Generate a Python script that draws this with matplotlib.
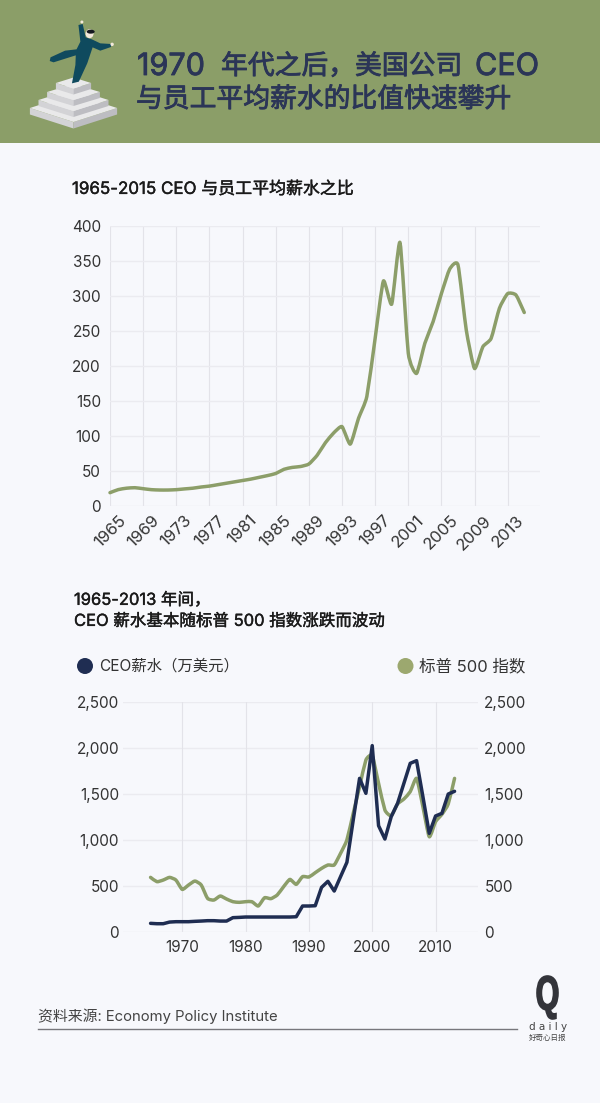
import matplotlib
matplotlib.use('Agg')
import matplotlib.pyplot as plt
import matplotlib.patheffects as pe
import numpy as np
from matplotlib.font_manager import FontProperties
from matplotlib.patches import Circle, Ellipse, PathPatch, Polygon
from matplotlib.path import Path
from matplotlib.textpath import TextPath
from matplotlib.ticker import StrMethodFormatter
from matplotlib.transforms import Affine2D

plt.rcParams['font.family'] = ['Inter', 'Noto Sans CJK SC', 'DejaVu Sans']

# Data
ratio_years = list(range(1965, 2016))
ratio_values = [18.6, 23, 25, 25.7, 24.3, 22.9, 22.4, 22.4, 22.9, 24,
                25, 26.7, 28, 30, 32, 34, 36, 38, 40.5, 43,
                46, 52, 54.7, 56, 59.5, 72, 90, 104, 113, 88,
                125, 156, 239, 321, 288, 376, 218, 189, 232, 263,
                303, 338, 344, 251, 196, 227, 239, 282, 303, 301, 276]
ratio_xticks = list(range(1965, 2014, 4))
ratio_yticks = [0, 50, 100, 150, 200, 250, 300, 350, 400]

pay_years = list(range(1965, 2014))
ceo_pay = [91, 87, 87, 105, 109, 109, 109, 113, 116, 120,
           120, 116, 116, 153, 156, 160, 160, 160, 160, 160,
           160, 160, 160, 163, 280, 280, 283, 483, 549, 443,
           600, 756, 1217, 1671, 1508, 2028, 1155, 1010, 1254, 1399,
           1617, 1835, 1864, 1472, 1072, 1261, 1290, 1500, 1530]
sp500 = [592, 545, 563, 592, 563, 461, 509, 552, 509, 363,
         345, 389, 356, 327, 320, 327, 327, 280, 370, 360,
         400, 490, 570, 516, 600, 596, 643, 690, 727, 727,
         854, 1000, 1290, 1580, 1871, 1918, 1617, 1326, 1264, 1392,
         1446, 1526, 1671, 1362, 1035, 1199, 1279, 1392, 1671]
pay_xticks = [1970, 1980, 1990, 2000, 2010]
pay_yticks = [0, 500, 1000, 1500, 2000, 2500]

BG = '#F7F8FC'
GREEN = '#8C9E69'
LEGEND_GREEN = '#9CA86F'
NAVY = '#1F2D52'
TITLE = '#2B3557'
TEXT = '#333333'
GRID_H = '#EBEBF0'
GRID_V = '#E3E3E9'
W, H = 600, 1103


def px_axes(left, top, right, bottom):
    return fig.add_axes([left / W, 1 - bottom / H, (right - left) / W, (bottom - top) / H])


def smooth_line(ax, xs, ys, color, tension=0.09):
    # Bezier through the data points, light smoothing like the original
    xs, ys = np.array(xs, float), np.array(ys, float)
    verts = [(xs[0], ys[0])]
    codes = [Path.MOVETO]
    for i in range(len(xs) - 1):
        a, b = max(i - 1, 0), min(i + 2, len(xs) - 1)
        verts.append((xs[i] + (xs[i + 1] - xs[a]) * tension, ys[i] + (ys[i + 1] - ys[a]) * tension))
        verts.append((xs[i + 1] - (xs[b] - xs[i]) * tension, ys[i + 1] - (ys[b] - ys[i]) * tension))
        verts.append((xs[i + 1], ys[i + 1]))
        codes += [Path.CURVE4] * 3
    ax.add_patch(PathPatch(Path(verts, codes), fill=False, edgecolor=color, lw=2.5,
                           capstyle='round', joinstyle='round', clip_on=False, zorder=3))


def style_axes(ax, xticks, yticks, pad):
    ax.set_facecolor('none')
    for s in ax.spines.values():
        s.set_visible(False)
    ax.set_xticks(xticks)
    ax.set_yticks(yticks)
    ax.tick_params(length=0, labelsize=11, labelcolor=TEXT)
    ax.tick_params(axis='y', pad=pad)
    ax.set_axisbelow(True)


def heading(x, y, s, size, color, stroke):
    # regular weight thickened a little, the CJK font has no medium here
    t = deco.text(x, y, s, fontsize=size, color=color, va='center')
    t.set_path_effects([pe.withStroke(linewidth=stroke, foreground=color)])


fig = plt.figure(figsize=(6, 11.03), dpi=100, facecolor=BG)

# Overlay for banner, illustration, headings and footer
deco = fig.add_axes([0, 0, 1, 1])
deco.set_xlim(0, W)
deco.set_ylim(H, 0)
deco.axis('off')
deco.add_patch(Polygon([(0, 0), (W, 0), (W, 143), (0, 143)], color='#8B9E68', lw=0))

# Pyramid, bottom step first
for cy, w, hh, h in [(108, 43.6, 14, 6.5), (100, 35, 11, 6), (92, 26.4, 8, 6), (83, 17.6, 5.5, 6)]:
    cx = 73.5
    deco.add_patch(Polygon([(cx - w, cy), (cx, cy + hh), (cx, cy + hh + h), (cx - w, cy + h)], color='#D3D3D6', lw=0))
    deco.add_patch(Polygon([(cx + w, cy), (cx, cy + hh), (cx, cy + hh + h), (cx + w, cy + h)], color='#BDBDC2', lw=0))
    deco.add_patch(Polygon([(cx - w, cy), (cx, cy - hh), (cx + w, cy), (cx, cy + hh)], color='#E9E9EA', lw=0))

# Man on the top step
scale = np.array([1 / 2.613, 1 / 3])
body = np.array([(205, 75), (216, 72), (224, 112), (240, 118), (262, 130), (290, 132), (290, 141),
                 (262, 152), (242, 142), (228, 190), (206, 245), (188, 250), (197, 195), (198, 166),
                 (140, 187), (130, 183), (132, 172), (170, 152), (200, 148), (210, 125)]) * scale
deco.add_patch(Polygon(body, color='#0F4A5E', lw=0))
deco.add_patch(Ellipse((234 / 2.613, 101 / 3), 8, 9, color='#F3E9DC', lw=0))
deco.add_patch(Ellipse((237 / 2.613, 95 / 3), 8, 4, color='#14181F', lw=0))
deco.add_patch(Circle((214 / 2.613, 66 / 3), 1.5, color='#F3E9DC', lw=0))
deco.add_patch(Circle((293 / 2.613, 133 / 3), 1.7, color='#F3E9DC', lw=0))

# Title pieces, the latin runs are set larger than the CJK
heading(137, 67, '1970', 22, TITLE, 0.6)
heading(221, 67, '年代之后\uff0c美国公司', 19.3, TITLE, 0.6)
heading(475, 67, 'CEO', 22, TITLE, 0.6)
heading(136, 100, '与员工平均薪水的比值快速攀升', 19.3, TITLE, 0.6)

heading(72, 189, '1965-2015 CEO 与员工平均薪水之比', 12.2, '#1A1A1A', 0.3)
heading(74, 600, '1965-2013 年间\uff0c', 11.9, '#1A1A1A', 0.3)
heading(74, 621, 'CEO 薪水基本随标普 500 指数涨跌而波动', 11.9, '#1A1A1A', 0.3)

# Legend of the lower chart
deco.add_patch(Circle((85, 666), 8, color=NAVY, lw=0))
deco.text(99, 666, 'CEO薪水\uff08万美元\uff09', fontsize=11.1, color=TEXT, va='center')
deco.add_patch(Circle((405.5, 666), 8, color=LEGEND_GREEN, lw=0))
deco.text(419, 666, '标普 500 指数', fontsize=11.9, color=TEXT, va='center')

# Footer
deco.text(38, 1016, '资料来源: Economy Policy Institute', fontsize=10.7, color='#444444', va='center')
deco.plot([38, 517], [1029, 1029], color='#77777C', lw=1)
q = TextPath((0, 0), 'Q', size=40, prop=FontProperties(family='Liberation Sans', weight='bold'))
bb = q.get_extents()
q_tf = Affine2D().translate(-bb.x0, -bb.y0).scale(21 / bb.width, -43 / bb.height).translate(537, 1019)
deco.add_patch(PathPatch(q_tf.transform_path(q), facecolor='#33343A', edgecolor='#33343A', lw=1.2))
deco.text(548, 1027, 'd a i l y', fontsize=7.5, color='#444444', ha='center', va='center', family='Liberation Sans Narrow')
deco.text(548, 1037, '好奇心日报', fontsize=5.4, color='#444444', ha='center', va='center')

# Upper chart
ax1 = px_axes(110, 225.7, 540, 505.7)
style_axes(ax1, ratio_xticks, ratio_yticks, 6.5)
ax1.grid(axis='y', color=GRID_H, lw=1)
ax1.grid(axis='x', color=GRID_V, lw=0.8)
ax1.set_xlim(1965, 2016.9)
ax1.set_ylim(0, 400)
smooth_line(ax1, ratio_years, ratio_values, GREEN)
ax1.tick_params(axis='x', pad=5)
for label in ax1.get_xticklabels():
    label.set_rotation(45)
    label.set_ha('center')
    label.set_fontsize(12)

# Lower chart, same scale on both sides; the grid sits on the back axes
ax2 = px_axes(122.7, 702.3, 478, 931.7)
style_axes(ax2, pay_xticks, pay_yticks, 2.5)
ax2.set_xlim(1960.6, 2016.7)
ax2.set_ylim(0, 2500)
ax2.yaxis.set_major_formatter(StrMethodFormatter('{x:,.0f}'))
ax2.tick_params(axis='x', pad=6)

ax2r = ax2.twinx()
for s in ax2r.spines.values():
    s.set_visible(False)
ax2r.set_facecolor('none')
ax2r.set_axisbelow(True)
ax2r.set_ylim(0, 2500)
ax2r.set_yticks(pay_yticks)
ax2r.yaxis.set_major_formatter(StrMethodFormatter('{x:,.0f}'))
ax2r.tick_params(length=0, labelsize=11, labelcolor=TEXT, pad=4.5)
ax2r.grid(axis='y', color=GRID_H, lw=1)
for year in pay_xticks:
    ax2r.axvline(year, color=GRID_V, lw=0.8, zorder=1)
smooth_line(ax2r, pay_years, sp500, GREEN)
ax2.set_zorder(ax2r.get_zorder() + 1)
ax2.plot(pay_years, ceo_pay, color=NAVY, lw=2.5, solid_joinstyle='round', solid_capstyle='round', zorder=4)

fig.savefig('out.png', dpi=100, facecolor=BG)
